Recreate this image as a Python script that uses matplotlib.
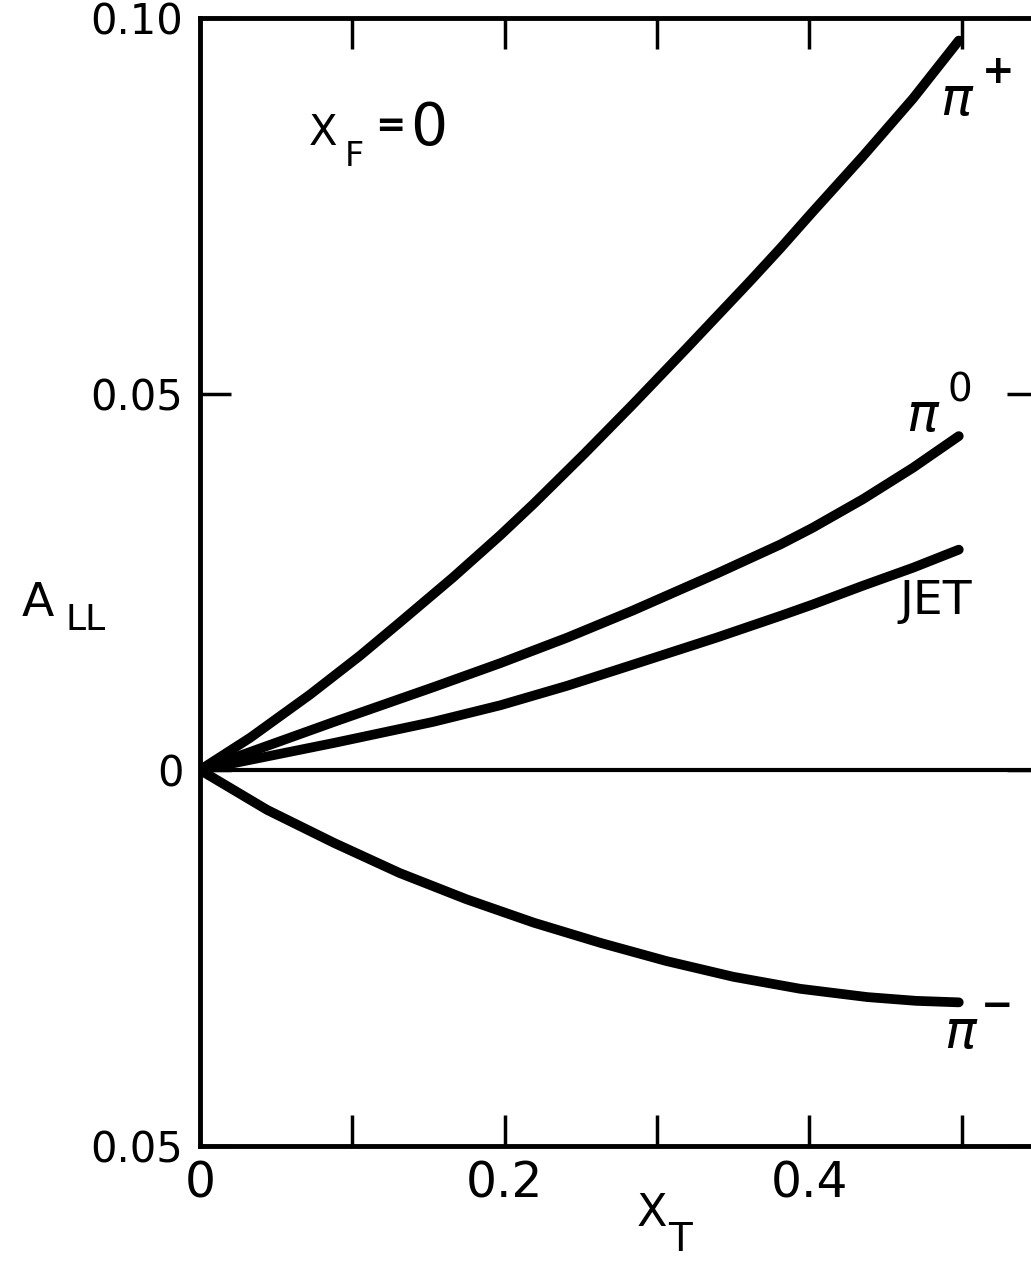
import matplotlib
matplotlib.use("Agg")
import matplotlib.pyplot as plt

# curve values (x_T, A_LL)
x_pip = [0.0, 0.033, 0.072, 0.105, 0.131, 0.166, 0.197, 0.219, 0.252, 0.284,
         0.319, 0.361, 0.381, 0.402, 0.435, 0.468, 0.498]
a_pip = [0.0, 0.0043, 0.0100, 0.0152, 0.0196, 0.0256, 0.0312, 0.0354, 0.0420, 0.0486,
         0.0560, 0.0650, 0.0694, 0.0742, 0.0816, 0.0893, 0.0970]

x_pi0 = [0.0, 0.044, 0.088, 0.153, 0.197, 0.241, 0.284, 0.339, 0.381, 0.402, 0.435, 0.468, 0.498]
a_pi0 = [0.0, 0.0032, 0.0064, 0.0110, 0.0142, 0.0176, 0.0212, 0.0261, 0.0300, 0.0322, 0.0360, 0.0402, 0.0444]

x_jet = [0.0, 0.044, 0.088, 0.153, 0.197, 0.241, 0.284, 0.339, 0.381, 0.402, 0.435, 0.468, 0.498]
a_jet = [0.0, 0.0018, 0.0036, 0.0064, 0.0086, 0.0112, 0.0140, 0.0176, 0.0205, 0.0220, 0.0245, 0.0269, 0.0293]

x_pim = [0.0, 0.044, 0.088, 0.131, 0.175, 0.219, 0.263, 0.306, 0.350, 0.394, 0.438, 0.470, 0.498]
a_pim = [0.0, -0.0053, -0.0097, -0.0137, -0.0172, -0.0203, -0.0230, -0.0254, -0.0275, -0.0291, -0.0302, -0.0307, -0.0309]

xticks = [0.0, 0.1, 0.2, 0.3, 0.4, 0.5]
xticklabels = ["0", "", "0.2", "", "0.4", ""]
yticks = [-0.05, 0.0, 0.05, 0.10]
yticklabels = ["0.05", "0", "0.05", "0.10"]

plt.rcParams["mathtext.fontset"] = "dejavusans"

W, H = 1031, 1277
fig = plt.figure(figsize=(W / 100, H / 100), dpi=100)
ax = fig.add_axes([0.194, 0.1026, 0.8128, 0.8833])


def ftext(x, y, s, **kw):
    # place text by pixel position in the figure (from top-left)
    fig.text(x / W, 1 - y / H, s, ha="center", va="center", color="black", **kw)


for xs, ys in [(x_pip, a_pip), (x_pi0, a_pi0), (x_jet, a_jet), (x_pim, a_pim)]:
    ax.plot(xs, ys, color="black", lw=7, solid_capstyle="round", solid_joinstyle="round")

ax.axhline(0, color="black", lw=3)

ax.set_xlim(0, 0.55)
ax.set_ylim(-0.05, 0.10)

for s in ax.spines.values():
    s.set_linewidth(3.5)

ax.set_xticks(xticks)
ax.set_xticklabels(xticklabels)
ax.set_yticks(yticks)
ax.set_yticklabels(yticklabels)
ax.tick_params(axis="both", direction="in", length=22, width=2.5,
               top=True, right=True, colors="black")
ax.tick_params(axis="x", pad=10, labelsize=35)
ax.tick_params(axis="y", pad=12, labelsize=30)

# curve labels
pi_kw = dict(fontsize=38, style="italic")
ftext(957, 100, r"$\pi$", **pi_kw)
ftext(998, 72, "+", fontsize=28, weight="bold")
ftext(923, 416, r"$\pi$", **pi_kw)
ftext(960, 390, "0", fontsize=28)
ftext(936, 601, "JET", fontsize=34)
ftext(961, 1033, r"$\pi$", **pi_kw)
ftext(997, 1006, "\u2212", fontsize=28, weight="bold")

# x_F = 0
ftext(323, 133, "X", fontsize=30)
ftext(354, 156, "F", fontsize=24)
ftext(390, 126, "=", fontsize=26, weight="bold")
ftext(429, 128, "0", fontsize=42)

# axis labels
ftext(38, 603, "A", fontsize=34)
ftext(86, 620, "LL", fontsize=26)
ftext(652, 1214, "X", fontsize=32)
ftext(680, 1240, "T", fontsize=28)

fig.savefig("out.png", dpi=100)
